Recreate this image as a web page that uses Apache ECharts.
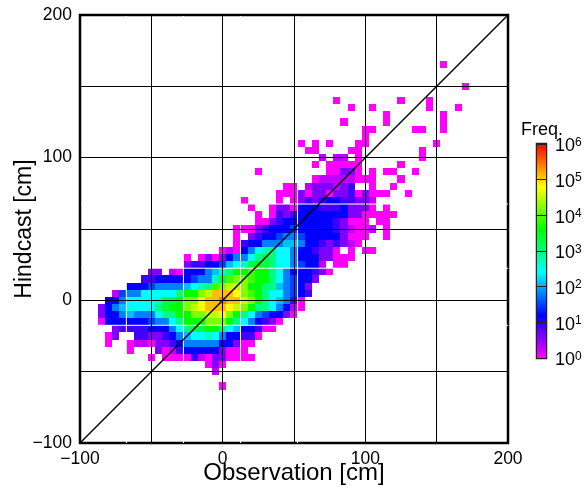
<!DOCTYPE html>
<html>
<head>
<meta charset="utf-8">
<style>
  html, body { margin: 0; padding: 0; background: #fff; }
  #chart { width: 584px; height: 494px; }
</style>
<script src="https://cdn.jsdelivr.net/npm/echarts@6/dist/echarts.min.js"></script>
</head>
<body>
<div id="chart"></div>
<script>
const _ = null;
const fontName = '"Liberation Sans", Arial, sans-serif';

// log10(freq) of a cell = level * 0.3, cells are 5 cm wide and centred on multiples of 5 cm
const levelStep = 0.3;
const cellSize = 5;
const rowY = [165, 150, 140, 135, 130, 125, 120, 115, 110, 105, 100, 95, 90, 85, 80, 75, 70, 65, 60, 55, 50, 45, 40, 35, 30, 25, 20, 15, 10, 5, 0, -5, -10, -15, -20, -25, -30, -35, -40, -45, -50, -60];
const rowStartX = [155, 170, 80, 90, 115, 85, 100, 100, 55, 60, 70, 65, 25, 65, 45, 40, 15, 20, 25, 25, 10, 10, 10, 0, -25, -25, -50, -55, -65, -75, -80, -85, -85, -85, -75, -80, -80, -65, -50, -10, -5, 0];
const rowLevels = [
  [0],
  [0],
  [0, _, _, _, _, _, _, _, _, 0, _, _, _, 0],
  [0, _, _, 0, _, _, _, _, _, _, _, 0, _, _, _, 0],
  [0, _, _, _, _, _, _, _, 0],
  [0, _, _, _, _, _, 0, _, _, _, _, _, _, _, 0],
  [0, 0, _, _, _, _, _, 0, 0, _, _, 0],
  [0],
  [0, _, 0, _, 0, _, _, _, 0, 0, _, _, _, _, _, _, _, _, _, 0],
  [0, 0, _, _, _, _, 0, 0, _, _, _, _, _, _, _, _, 0],
  [1, _, 1, 1, _, 0, _, _, _, _, _, _, _, _, 0],
  [0, _, 0, 0, 0, 0, 0, _, _, _, _, _, 0],
  [0, _, _, _, _, _, _, _, _, _, 0, 0, 2, 2, 0, _, 0, _, 0, 0, _, _, 0],
  [0, 1, 1, 1, 1, 1, 0, 0, 0, _, _, _, 0],
  [0, 0, _, 1, 2, 2, 2, 1, 2, 3, _, _, 0, _, _, 0],
  [0, 0, 0, 2, 0, 2, 2, 0, 2, 2, 3, 0, 2, 0, 0, 0, _, _, 0],
  [0, _, _, _, _, 0, _, 0, 2, 3, 2, 3, 4, 4, 3, 3, 2, 2, 1],
  [0, _, _, 0, 2, 2, 0, 4, 4, 4, 3, 3, 3, 4, 2, 2, 2, 0, _, 0],
  [0, _, 0, 3, 2, 3, 4, 4, 4, 4, 4, 4, 4, 2, 2, 0, 0, 0, 0, 0],
  [0, 0, 2, 3, 4, 4, 4, 4, 4, 4, 4, 3, 2, 0, 0, 0, _, 0, 0],
  [0, 0, 0, 2, 3, 4, 4, 4, 5, 4, 4, 4, 4, 4, 3, 2, 1, 0, 0, 1, _, 0],
  [0, _, 2, 3, 4, 4, 5, 6, 6, 5, 4, 4, 4, 4, 4, 2, 0, 0, 0, _, _, 0],
  [0, 3, 4, 4, 6, 6, 6, 7, 7, 6, 4, 4, 3, 2, 3, 2, 1, 0],
  [0, 1, 0, 4, 6, 8, 9, 10, 8, 8, 6, 4, 4, 3, 2, 2, 0, _, 0, _, 0, 0],
  [0, _, 0, 2, 0, 2, 4, 6, 6, 8, 10, 11, 10, 8, 8, 6, 4, 4, 4, 2, 2, 0, 0, 0],
  [2, 3, 3, 4, 4, 5, 7, 8, 9, 11, 12, 11, 10, 8, 8, 6, 5, 4, 4, 1, _, 0, 0],
  [2, 2, _, 1, 0, 4, 4, 4, 6, 7, 9, 10, 12, 12, 13, 12, 12, 10, 8, 6, 4, 4, 4, 3, 2, 0],
  [3, 3, 4, 4, 4, 4, 4, 5, 6, 6, 9, 11, 13, 14, 14, 13, 12, 12, 10, 8, 6, 5, 4, 4, 2],
  [4, 4, 4, 5, 6, 6, 6, 6, 7, 8, 9, 10, 13, 14, 15, 15, 14, 12, 12, 10, 10, 7, 6, 5, 4, 2],
  [1, 5, 6, 6, 8, 8, 8, 8, 8, 10, 12, 12, 14, 15, 17, 17, 17, 16, 14, 13, 12, 10, 8, 8, 6, 5, 4, 3],
  [4, 4, 6, 8, 8, 8, 8, 9, 11, 11, 12, 14, 14, 16, 17, 17, 18, 17, 17, 15, 14, 12, 10, 8, 7, 6, 3, 0],
  [2, 4, 6, 7, 8, 8, 8, 8, 10, 11, 12, 12, 14, 15, 16, 17, 17, 17, 16, 15, 14, 12, 10, 10, 8, 6, 4, 1, 0],
  [2, 4, 4, 6, 7, 6, 6, 6, 8, 10, 10, 12, 12, 14, 14, 15, 15, 16, 14, 12, 10, 8, 6, 5, 4, 4, 2, 0],
  [0, 4, 4, 4, 4, 4, 4, 5, 6, 6, 8, 10, 12, 12, 12, 14, 14, 14, 12, 10, 8, 6, 4, 3, 2, 0],
  [2, 3, 3, 3, 3, 4, 4, 4, 6, 8, 10, 11, 11, 12, 12, 10, 8, 7, 4, 4, 3, 0, 0],
  [0, 2, _, _, 3, 3, 2, 2, 3, 4, 6, 7, 8, 8, 9, 8, 6, 4, 4, 3, 3, 0],
  [0, _, _, 0, 1, 1, 0, 2, 2, 3, 4, 6, 6, 6, 6, 6, 4, 4, 2, 0, 0],
  [0, _, _, _, 2, 0, 1, 3, 4, 4, 4, 4, 4, 2, 0, 0, 0],
  [0, _, 0, 0, 0, 0, 3, 1, 0, 2, 2, 0, 0, 0, 0],
  [0, 2, 0],
  [1],
  [0]
];

// rendering gaps of the original image, white hairlines on top of the cells
const gapLinesX = [-67.5, -27.5, 12.5, 52.5];
const gapLinesY = [67.5, 22.5, -17.5];

const axisMin = -100;
const axisMax = 200;
const axisStep = 50;
const labelledTicks = [-100, 0, 100, 200];
const diagonal = [[-100, -100], [200, 200]];

const rainbow = ['#ff00ff', '#0000ff', '#00ffff', '#00ff00', '#ffff00', '#ff0000'];
const colorbarMin = 0;
const colorbarMax = 6;

function buildCells() {
  const cells = [];
  rowLevels.forEach(function (levels, r) {
    levels.forEach(function (level, c) {
      if (level !== null) {
        cells.push([rowStartX[r] + c * cellSize, rowY[r], level * levelStep]);
      }
    });
  });
  return cells;
}

function renderCell(params, api) {
  const x = api.value(0);
  const y = api.value(1);
  const half = cellSize / 2;
  const p0 = api.coord([x - half, y + half]);
  const p1 = api.coord([x + half, y - half]);
  const left = Math.round(p0[0]);
  const top = Math.round(p0[1]);
  return {
    type: 'rect',
    shape: { x: left, y: top, width: Math.round(p1[0]) - left, height: Math.round(p1[1]) - top },
    style: { fill: api.visual('color') },
  };
}

function renderColorbar(params, api) {
  const p0 = api.coord([0, colorbarMax]);
  const p1 = api.coord([1, colorbarMin]);
  return {
    type: 'rect',
    shape: { x: p0[0], y: p0[1], width: p1[0] - p0[0], height: p1[1] - p0[1] },
    style: {
      fill: new echarts.graphic.LinearGradient(0, 1, 0, 0, rainbow.map(function (color, i) {
        return { offset: i / (rainbow.length - 1), color: color };
      })),
    },
  };
}

function tickLabel(value) {
  if (labelledTicks.indexOf(value) < 0) {
    return '';
  }
  return value < 0 ? '\u2212' + Math.abs(value) : String(value);
}

function gapLine(points) {
  return {
    type: 'line',
    data: points,
    symbol: 'none',
    silent: true,
    z: 3,
    lineStyle: { color: '#fff', width: 1 },
  };
}

const mainAxis = {
  type: 'value',
  min: axisMin,
  max: axisMax,
  interval: axisStep,
  z: 5,
  nameMoveOverlap: false,
  axisLine: { show: false },
  axisTick: { show: false },
  splitLine: { show: true, lineStyle: { color: '#000', width: 1 } },
};

const chart = echarts.init(document.getElementById('chart'));

chart.setOption({
  animation: false,
  textStyle: { fontFamily: fontName },
  grid: [
    { left: 80, top: 15, width: 428, height: 428, show: true, borderColor: '#000', borderWidth: 2.5, outerBoundsMode: 'none' },
    { left: 537, top: 144, width: 9, height: 214, show: true, borderColor: '#222', borderWidth: 2.5, outerBoundsMode: 'none' },
  ],
  xAxis: [
    Object.assign({}, mainAxis, {
      gridIndex: 0,
      name: 'Observation [cm]',
      nameLocation: 'middle',
      nameGap: 18,
      nameTextStyle: { fontSize: 24, color: '#000', fontFamily: fontName },
      axisLabel: { color: '#000', fontSize: 17.5, margin: 7, fontFamily: fontName, formatter: tickLabel, showMinLabel: true, showMaxLabel: true },
    }),
    { type: 'value', gridIndex: 1, min: 0, max: 1, show: false },
  ],
  yAxis: [
    Object.assign({}, mainAxis, {
      gridIndex: 0,
      name: 'Hindcast [cm]',
      nameLocation: 'middle',
      nameGap: 44,
      nameTextStyle: { fontSize: 23, color: '#000', fontFamily: fontName },
      axisLabel: { color: '#000', fontSize: 17.5, margin: 8, padding: [4, 0, 0, 0], fontFamily: fontName, formatter: tickLabel, showMinLabel: true, showMaxLabel: true },
    }),
    {
      type: 'value',
      gridIndex: 1,
      position: 'right',
      min: colorbarMin,
      max: colorbarMax,
      interval: 1,
      z: 7,
      axisLine: { show: false },
      axisTick: { show: false },
      splitLine: { show: true, lineStyle: { color: '#222', width: 1 } },
      axisLabel: {
        margin: 9,
        padding: [5, 0, 0, 0],
        formatter: function (value) {
          return '{base|10}{sup|' + value + '}';
        },
        rich: {
          base: { fontSize: 18, color: '#000', fontFamily: fontName },
          sup: { fontSize: 12, color: '#000', fontFamily: fontName, padding: [0, 0, 8, 0] },
        },
      },
    },
  ],
  visualMap: {
    show: false,
    seriesIndex: 0,
    dimension: 2,
    min: colorbarMin,
    max: colorbarMax,
    inRange: { color: rainbow },
  },
  series: [
    { type: 'custom', xAxisIndex: 0, yAxisIndex: 0, data: buildCells(), renderItem: renderCell, z: 2, silent: true },
    gapLine([[gapLinesX[0], axisMin], [gapLinesX[0], axisMax]]),
    gapLine([[gapLinesX[1], axisMin], [gapLinesX[1], axisMax]]),
    gapLine([[gapLinesX[2], axisMin], [gapLinesX[2], axisMax]]),
    gapLine([[gapLinesX[3], axisMin], [gapLinesX[3], axisMax]]),
    gapLine([[axisMin, gapLinesY[0]], [axisMax, gapLinesY[0]]]),
    gapLine([[axisMin, gapLinesY[1]], [axisMax, gapLinesY[1]]]),
    gapLine([[axisMin, gapLinesY[2]], [axisMax, gapLinesY[2]]]),
    { type: 'line', data: diagonal, symbol: 'none', silent: true, z: 8, lineStyle: { color: '#000', width: 1.5 } },
    { type: 'custom', xAxisIndex: 1, yAxisIndex: 1, data: [[0]], renderItem: renderColorbar, z: 2, silent: true },
  ],
  graphic: [
    { type: 'text', left: 521, top: 121, style: { text: 'Freq.', fontSize: 18, fill: '#000', fontFamily: fontName } },
  ],
});
</script>
</body>
</html>
